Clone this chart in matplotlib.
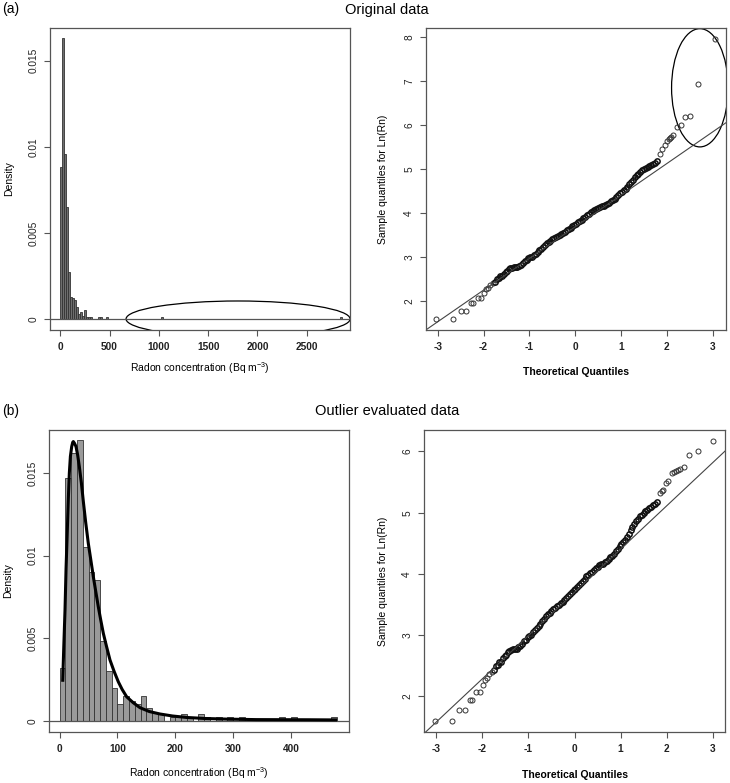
import matplotlib
matplotlib.use("Agg")
import matplotlib.pyplot as plt
from matplotlib.patches import Ellipse

plt.rcParams['font.family'] = ['Liberation Sans', 'DejaVu Sans']
plt.rcParams['mathtext.default'] = 'regular'
plt.rcParams['axes.unicode_minus'] = False

# (a) original data, histogram with 20 Bq m-3 bins (only non-empty bins)
orig_bin_left = [0, 20, 40, 60, 80, 100, 120, 140, 160, 180, 200, 220, 240, 260,
                 280, 300, 380, 400, 460, 1020, 2840]
orig_density = [0.0088, 0.0163, 0.0096, 0.0065, 0.0027, 0.0013, 0.0012, 0.0011,
                0.0007, 0.0003, 0.0004, 0.0002, 0.0005, 0.0001, 0.0001, 0.0001,
                0.0001, 0.0001, 0.0001, 0.0001, 0.0001]

# (b) outlier evaluated data, histogram with 10 Bq m-3 bins (only non-empty bins)
eval_bin_left = [0, 10, 20, 30, 40, 50, 60, 70, 80, 90, 100, 110, 120, 130, 140,
                 150, 160, 170, 190, 200, 210, 220, 240, 250, 270, 290, 310, 380,
                 400, 470]
eval_density = [0.0032, 0.0147, 0.0162, 0.0170, 0.0105, 0.0090, 0.0085, 0.0048,
                0.0030, 0.0020, 0.0010, 0.0015, 0.0012, 0.0010, 0.0015, 0.00075,
                0.0005, 0.0004, 0.0002, 0.0002, 0.0004, 0.0002, 0.0004, 0.0002,
                0.0002, 0.0002, 0.0002, 0.0002, 0.0002, 0.0002]

# fitted density curve over (b)
fit_x = [5.2, 7, 9.2, 11, 13.2, 15, 16.7, 18.5, 20.8, 22.5, 23.6, 25.5, 28.2, 31,
         34, 37.5, 40.9, 45, 49.5, 54, 58.2, 62.5, 66.8, 71, 75.5, 81, 87, 94,
         101.4, 108, 115.9, 127, 139, 155, 173.5, 195, 219.7, 250, 289, 340, 433, 480]
fit_y = [0.00236, 0.0044, 0.0067, 0.0092, 0.01155, 0.0135, 0.0150, 0.0160, 0.0166,
         0.01685, 0.0169, 0.0168, 0.0166, 0.0161, 0.01538, 0.0144, 0.01327, 0.0120,
         0.01074, 0.0097, 0.00872, 0.0078, 0.0069, 0.0061, 0.00529, 0.0045, 0.00368,
         0.0030, 0.00236, 0.0019, 0.00145, 0.0011, 0.00079, 0.00056, 0.00041,
         0.00029, 0.0002, 0.00014, 0.0001, 0.00007, 0.00006, 0.00005]

# normal QQ points for ln(Rn): lower tail (sparse)
qq_low_x = [-3.03, -2.67, -2.50, -2.38, -2.27, -2.22, -2.13, -2.06, -1.98, -1.95,
            -1.90, -1.85, -1.80]
qq_low_y = [1.60, 1.60, 1.78, 1.78, 1.95, 1.95, 2.07, 2.07, 2.19, 2.27,
            2.30, 2.36, 2.40]

# dense central band
qq_core_x = [-1.75, -1.71, -1.67, -1.63, -1.60, -1.56, -1.52,
             -1.49, -1.45, -1.42, -1.38, -1.34, -1.30, -1.26, -1.22, -1.18, -1.14,
             -1.10, -1.06, -1.02, -0.98, -0.94, -0.90, -0.86, -0.82, -0.78, -0.74,
             -0.70, -0.66, -0.62, -0.58, -0.54, -0.50, -0.46, -0.42, -0.38, -0.34,
             -0.30, -0.26, -0.22, -0.18, -0.14, -0.10, -0.06, -0.02, 0.02, 0.06,
             0.10, 0.14, 0.18, 0.22, 0.26, 0.30, 0.34, 0.38, 0.42, 0.46, 0.50, 0.54,
             0.58, 0.62, 0.66, 0.70, 0.74, 0.78, 0.82, 0.86, 0.90, 0.94, 0.98, 1.02,
             1.06, 1.10, 1.14, 1.18, 1.22, 1.26, 1.30, 1.34, 1.38, 1.42, 1.46, 1.50,
             1.54, 1.58, 1.62, 1.66, 1.70, 1.74, 1.79]
qq_core_y = [2.44, 2.49, 2.52, 2.56, 2.57, 2.62, 2.66,
             2.68, 2.72, 2.74, 2.76, 2.77, 2.77, 2.78, 2.80, 2.82, 2.86,
             2.90, 2.93, 2.97, 2.99, 3.01, 3.05, 3.08, 3.11, 3.15, 3.19,
             3.23, 3.27, 3.31, 3.34, 3.37, 3.40, 3.43, 3.45, 3.47, 3.50,
             3.52, 3.55, 3.58, 3.61, 3.64, 3.67, 3.70, 3.73, 3.76, 3.79,
             3.82, 3.85, 3.88, 3.92, 3.96, 3.99, 4.02, 4.04, 4.07, 4.10, 4.12, 4.14,
             4.16, 4.17, 4.19, 4.21, 4.24, 4.27, 4.30, 4.33, 4.37, 4.41, 4.45, 4.49,
             4.52, 4.55, 4.60, 4.66, 4.71, 4.76, 4.81, 4.86, 4.90, 4.94, 4.97, 5.00,
             5.03, 5.05, 5.08, 5.10, 5.12, 5.15, 5.18]

# upper tails
qq_tail_a_x = [1.84, 1.90, 1.96, 2.00, 2.04, 2.07, 2.10, 2.14, 2.23, 2.30, 2.40, 2.51, 2.69, 3.04]
qq_tail_a_y = [5.35, 5.45, 5.55, 5.63, 5.68, 5.71, 5.74, 5.77, 5.95, 6.01, 6.18, 6.20, 6.94, 7.96]
qq_tail_b_x = [1.86, 1.90, 1.93, 1.99, 2.04, 2.11, 2.16, 2.20, 2.25, 2.29, 2.38, 2.49, 2.68, 3.01]
qq_tail_b_y = [5.32, 5.35, 5.37, 5.48, 5.51, 5.65, 5.66, 5.68, 5.70, 5.72, 5.75, 5.95, 6.01, 6.17]

# qqline: intercept, slope
qqline_a = (3.687, 0.72)
qqline_b = (3.70, 0.705)

frame_col = '#555555'
bar_face = '#9a9a9a'
bar_edge = '#333333'

fig = plt.figure(figsize=(7.30, 7.83), dpi=100)
W, H = 730.0, 783.0


def add_ax(x0, y0, x1, y1):
    return fig.add_axes([x0 / W, 1 - y1 / H, (x1 - x0) / W, (y1 - y0) / H])


def r_style(ax, ylab_x, xlab_y):
    for s in ax.spines.values():
        s.set_color(frame_col)
        s.set_linewidth(0.9)
    ax.tick_params(axis='both', length=4.5, width=0.8, color=frame_col,
                   pad=4.0, labelsize=7.3, labelcolor='#222222')
    for lab in ax.get_xticklabels():
        lab.set_fontweight('bold')
    ax.yaxis.set_label_coords(ylab_x, 0.5)
    ax.xaxis.set_label_coords(0.5, xlab_y)


def qq_points(ax, tail_x, tail_y):
    sparse = dict(marker='o', ls='none', ms=3.6, mfc='none', mec='#333333', mew=0.7)
    dense = dict(marker='o', ls='none', ms=3.8, mfc='none', mec='#111111', mew=1.1)
    ax.plot(qq_low_x, qq_low_y, **sparse)
    ax.plot(qq_core_x, qq_core_y, **dense)
    ax.plot(tail_x, tail_y, **sparse)


ax1 = add_ax(50, 28, 350, 330)
ax2 = add_ax(426, 28, 726, 330)
ax3 = add_ax(49, 430, 349, 732)
ax4 = add_ax(424, 430, 725, 732)

# histogram (a)
ax1.bar(orig_bin_left, orig_density, width=20, align='edge', color='#6e6e6e',
        edgecolor=bar_edge, linewidth=0.6)
ax1.axhline(0, color=frame_col, lw=0.9)
ax1.add_patch(Ellipse((1804, 0), 2274, 0.00209, fill=False, ec='black', lw=0.9))
ax1.set_xlim(-105, 2940)
ax1.set_ylim(-0.00064, 0.0169)
ax1.set_xticks([0, 500, 1000, 1500, 2000, 2500])
ax1.set_yticks([0, 0.005, 0.01, 0.015])
ax1.set_yticklabels(['0', '0.005', '0.01', '0.015'], rotation=90, va='center')
ax1.set_ylabel('Density', fontsize=7.5, va='center')
ax1.set_xlabel('Radon concentration (Bq m$^{-3}$)', fontsize=7.5, va='center')
r_style(ax1, -0.136, -0.125)

# qq (a)
qq_points(ax2, qq_tail_a_x, qq_tail_a_y)
ax2.axline((0, qqline_a[0]), slope=qqline_a[1], color='#444444', lw=0.8)
ax2.add_patch(Ellipse((2.72, 6.85), 1.235, 2.69, fill=False, ec='black', lw=0.9))
ax2.set_xlim(-3.255, 3.29)
ax2.set_ylim(1.34, 8.21)
ax2.set_xticks([-3, -2, -1, 0, 1, 2, 3])
ax2.set_yticks([2, 3, 4, 5, 6, 7, 8])
ax2.set_yticklabels(['2', '3', '4', '5', '6', '7', '8'], rotation=90, va='center')
ax2.set_ylabel('Sample quantiles for Ln(Rn)', fontsize=7.5, va='center')
ax2.set_xlabel('Theoretical Quantiles', fontsize=7.5, va='center', fontweight='bold')
r_style(ax2, -0.143, -0.138)

# histogram (b) with fitted curve
ax3.bar(eval_bin_left, eval_density, width=10, align='edge', color=bar_face,
        edgecolor=bar_edge, linewidth=0.6)
ax3.axhline(0, color=frame_col, lw=0.9)
ax3.plot(fit_x, fit_y, color='black', lw=2.2, solid_capstyle='butt')
ax3.set_xlim(-18.5, 500.5)
ax3.set_ylim(-0.00068, 0.0176)
ax3.set_xticks([0, 100, 200, 300, 400])
ax3.set_yticks([0, 0.005, 0.01, 0.015])
ax3.set_yticklabels(['0', '0.005', '0.01', '0.015'], rotation=90, va='center')
ax3.set_ylabel('Density', fontsize=7.5, va='center')
ax3.set_xlabel('Radon concentration (Bq m$^{-3}$)', fontsize=7.5, va='center')
r_style(ax3, -0.136, -0.135)

# qq (b)
qq_points(ax4, qq_tail_b_x, qq_tail_b_y)
ax4.axline((0, qqline_b[0]), slope=qqline_b[1], color='#444444', lw=0.8)
ax4.set_xlim(-3.27, 3.27)
ax4.set_ylim(1.42, 6.35)
ax4.set_xticks([-3, -2, -1, 0, 1, 2, 3])
ax4.set_yticks([2, 3, 4, 5, 6])
ax4.set_yticklabels(['2', '3', '4', '5', '6'], rotation=90, va='center')
ax4.set_ylabel('Sample quantiles for Ln(Rn)', fontsize=7.5, va='center')
ax4.set_xlabel('Theoretical Quantiles', fontsize=7.5, va='center', fontweight='bold')
r_style(ax4, -0.135, -0.142)

# panel titles
fig.text(387 / W, 1 - 10 / H, 'Original data', ha='center', va='center', fontsize=10.5)
fig.text(2 / W, 1 - 9 / H, '(a)', ha='left', va='center', fontsize=10)
fig.text(387 / W, 1 - 411 / H, 'Outlier evaluated data', ha='center', va='center', fontsize=10.5)
fig.text(2 / W, 1 - 411 / H, '(b)', ha='left', va='center', fontsize=10)

fig.savefig('out.png', dpi=100)
